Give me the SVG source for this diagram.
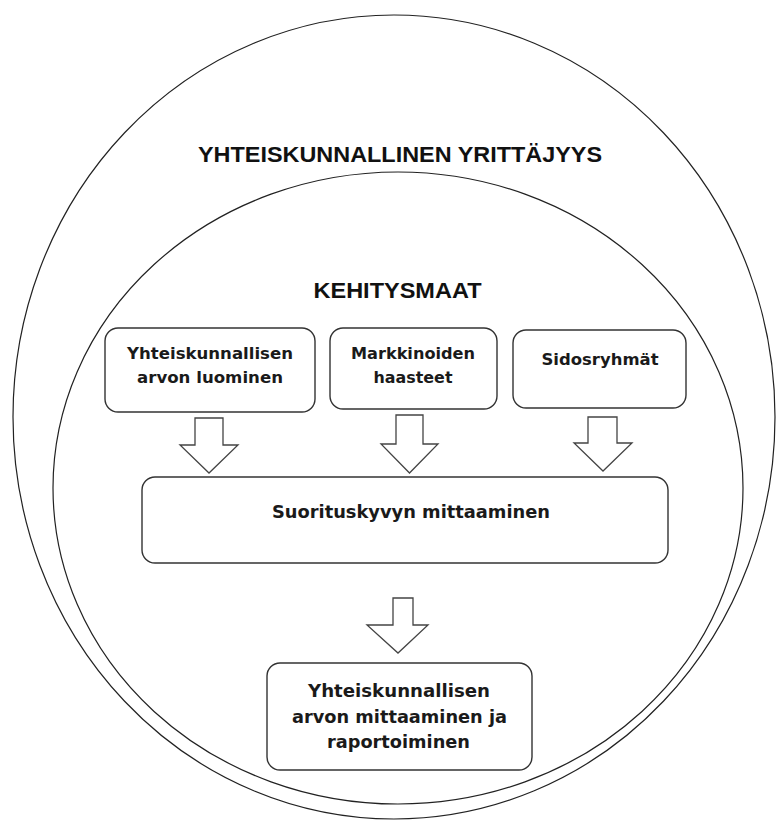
<svg xmlns="http://www.w3.org/2000/svg" width="776" height="821" viewBox="0 0 776 821">
<style>
.ell{fill:none;stroke:#222;stroke-width:1.2}
.box{fill:#fff;stroke:#333;stroke-width:1.4}
.arr{fill:#fff;stroke:#444;stroke-width:1.3;stroke-linejoin:miter}
.title{font-family:"Liberation Sans",Arial,sans-serif;font-weight:bold;font-size:22px;fill:#111;text-anchor:middle}
.lbl{font-family:"DejaVu Sans",Verdana,sans-serif;font-weight:bold;fill:#1a1a1a;text-anchor:middle}
</style>
<rect width="776" height="821" fill="#fff"/>
<g id="outer">
<ellipse class="ell" cx="394" cy="417" rx="381" ry="402"/>
<text class="title" x="400" y="162" textLength="404" lengthAdjust="spacingAndGlyphs">YHTEISKUNNALLINEN YRITTÄJYYS</text>
</g>
<g id="inner">
<ellipse class="ell" cx="398" cy="488" rx="345" ry="316"/>
<text class="title" x="397.5" y="298" textLength="168" lengthAdjust="spacingAndGlyphs">KEHITYSMAAT</text>
</g>
<g id="n1">
<rect class="box" x="105" y="328" width="210" height="84" rx="13"/>
<text class="lbl" font-size="16" x="210" y="359" textLength="166" lengthAdjust="spacingAndGlyphs">Yhteiskunnallisen</text>
<text class="lbl" font-size="16" x="210" y="383" textLength="146" lengthAdjust="spacingAndGlyphs">arvon luominen</text>
</g>
<g id="n2">
<rect class="box" x="330" y="328" width="167" height="81" rx="13"/>
<text class="lbl" font-size="16" x="413" y="359" textLength="124" lengthAdjust="spacingAndGlyphs">Markkinoiden</text>
<text class="lbl" font-size="16" x="413" y="383" textLength="79" lengthAdjust="spacingAndGlyphs">haasteet</text>
</g>
<g id="n3">
<rect class="box" x="513" y="330" width="173" height="78" rx="13"/>
<text class="lbl" font-size="16" x="600" y="365" textLength="117" lengthAdjust="spacingAndGlyphs">Sidosryhmät</text>
</g>
<g id="n4">
<rect class="box" x="142" y="477" width="526" height="86" rx="13"/>
<text class="lbl" font-size="17" x="411" y="518" textLength="278" lengthAdjust="spacingAndGlyphs">Suorituskyvyn mittaaminen</text>
</g>
<g id="n5">
<rect class="box" x="267" y="663" width="265" height="107" rx="13"/>
<text class="lbl" font-size="18" x="399" y="697" textLength="182" lengthAdjust="spacingAndGlyphs">Yhteiskunnallisen</text>
<text class="lbl" font-size="18" x="399.5" y="723" textLength="215" lengthAdjust="spacingAndGlyphs">arvon mittaaminen ja</text>
<text class="lbl" font-size="18" x="398.5" y="748" textLength="143" lengthAdjust="spacingAndGlyphs">raportoiminen</text>
</g>
<g id="connectors">
<polygon class="arr" points="195,418 223,418 223,445 238,445 209,473 180,445 195,445"/>
<polygon class="arr" points="396,415 423,415 423,444 438,444 409.5,473 381,444 396,444"/>
<polygon class="arr" points="588,417 617,417 617,443 632,443 603,471 574,443 588,443"/>
<polygon class="arr" points="393,598 413,598 413,625 428,625 398,653 367,625 393,625"/>
</g>
</svg>
